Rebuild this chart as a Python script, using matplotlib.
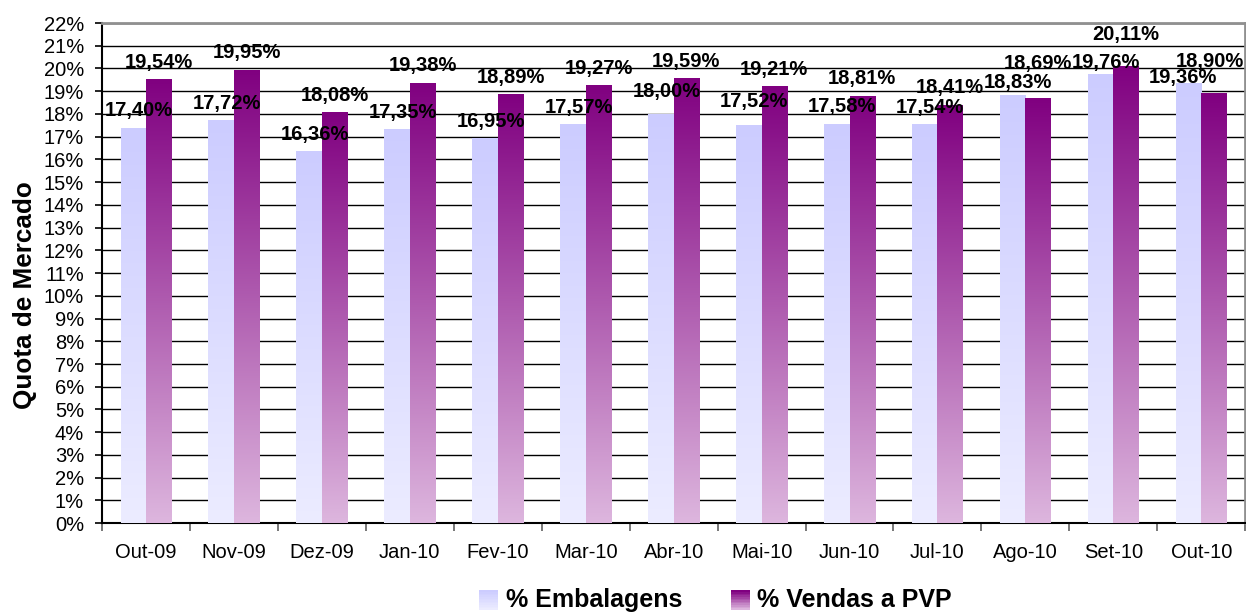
import numpy as np
import matplotlib
matplotlib.use('Agg')
import matplotlib.pyplot as plt
from matplotlib.colors import LinearSegmentedColormap
from matplotlib.legend_handler import HandlerBase
from matplotlib.patches import Rectangle
from matplotlib.ticker import FuncFormatter, MultipleLocator

plt.rcParams['font.family'] = ['Liberation Sans', 'DejaVu Sans']

# dados
meses = ['Out-09', 'Nov-09', 'Dez-09', 'Jan-10', 'Fev-10', 'Mar-10', 'Abr-10',
         'Mai-10', 'Jun-10', 'Jul-10', 'Ago-10', 'Set-10', 'Out-10']
embalagens = [17.40, 17.72, 16.36, 17.35, 16.95, 17.57, 18.00,
              17.52, 17.58, 17.54, 18.83, 19.76, 19.36]
vendas_pvp = [19.54, 19.95, 18.08, 19.38, 18.89, 19.27, 19.59,
              19.21, 18.81, 18.41, 18.69, 20.11, 18.90]
series = ['% Embalagens', '% Vendas a PVP']

# cores (topo -> base)
cor_emb = ('#ccccff', '#ececff')
cor_pvp = ('#800080', '#ddb6de')

fig = plt.figure(figsize=(12.46, 6.14), dpi=100)
ax = fig.add_axes([0.0819, 0.148, 0.9175, 0.8145])

x = np.arange(len(meses))
w = 0.29


def gradiente(ax, barras, cores):
    cmap = LinearSegmentedColormap.from_list('g', [cores[1], cores[0]])
    grad = np.linspace(0, 1, 256).reshape(-1, 1)
    for b in barras:
        b.set_facecolor('none')
        x0, y0 = b.get_x(), b.get_y()
        x1, y1 = x0 + b.get_width(), y0 + b.get_height()
        im = ax.imshow(grad, cmap=cmap, extent=[x0, x1, y0, y1], origin='lower',
                       aspect='auto', zorder=3, interpolation='bicubic')
        im.set_clip_path(b)


b1 = ax.bar(x - w / 2, embalagens, w, linewidth=0, zorder=3)
b2 = ax.bar(x + w / 2, vendas_pvp, w, linewidth=0, zorder=3)
gradiente(ax, b1, cor_emb)
gradiente(ax, b2, cor_pvp)

# rótulos (deslocamento em pontos; alguns movidos à mão no original)
desl_emb = [12] * len(meses)
desl_pvp = [12] * len(meses)
desl_emb[6] = 16
desl_emb[7] = 17
desl_emb[10] = 9
desl_emb[11] = 8
desl_emb[12] = 4
desl_pvp[10] = 25
desl_pvp[11] = 23
desl_pvp[12] = 23
dx_emb = [4] * len(meses)
dx_pvp = [0] * len(meses)
dx_emb[12] = -4
dx_pvp[12] = -3

fmt = lambda v: f'{v:.2f}%'.replace('.', ',')
for i in range(len(meses)):
    ax.annotate(fmt(embalagens[i]), (x[i] - w / 2, embalagens[i]),
                xytext=(dx_emb[i], desl_emb[i]), textcoords='offset points',
                ha='center', va='center', fontsize=14.5, fontweight='bold', zorder=5)
    ax.annotate(fmt(vendas_pvp[i]), (x[i] + w / 2, vendas_pvp[i]),
                xytext=(dx_pvp[i], desl_pvp[i]), textcoords='offset points',
                ha='center', va='center', fontsize=14.5, fontweight='bold', zorder=5)

ax.set_xlim(-0.5, len(meses) - 0.5)
ax.set_ylim(0, 22)
ax.yaxis.set_major_locator(MultipleLocator(1))
ax.yaxis.set_major_formatter(FuncFormatter(lambda v, p: f'{v:.0f}%'))
ax.grid(axis='y', color='black', linewidth=1, zorder=1)
ax.set_axisbelow(True)

ax.set_xticks(x)
ax.set_xticklabels(meses)
ax.set_xticks(np.arange(-0.5, len(meses)), minor=True)
ax.tick_params(axis='x', which='major', length=0, pad=14, labelsize=14.5)
ax.tick_params(axis='x', which='minor', length=6, color='#606060', width=1.2)
ax.tick_params(axis='y', length=5, width=1.2, pad=8, labelsize=14.5)

for s in ['top', 'right']:
    ax.spines[s].set_color('#909090')
    ax.spines[s].set_linewidth(2)
for s in ['left', 'bottom']:
    ax.spines[s].set_color('black')
    ax.spines[s].set_linewidth(1.5)

ax.set_ylabel('Quota de Mercado', fontsize=18.8, fontweight='bold')
ax.yaxis.set_label_coords(-0.057, 0.455)


class HandlerGrad(HandlerBase):
    def __init__(self, cores):
        super().__init__()
        self.cores = cores

    def create_artists(self, legend, orig, xd, yd, width, height, fontsize, trans):
        cmap = LinearSegmentedColormap.from_list('g', [self.cores[1], self.cores[0]])
        s = height * 1.1
        x0 = xd + width - s
        y0 = yd - (s - height) / 2 - 1
        n = 12
        arts = []
        for k in range(n):
            r = Rectangle((x0, y0 + s * k / n), s, s / n + 0.3,
                          facecolor=cmap(k / (n - 1)), edgecolor='none',
                          transform=trans)
            arts.append(r)
        return arts


h1 = Rectangle((0, 0), 1, 1)
h2 = Rectangle((0, 0), 1, 1)
fig.legend([h1, h2], series, loc='center', bbox_to_anchor=(0.573, 0.022),
           ncol=2, frameon=False, prop={'size': 18, 'weight': 'bold'},
           handler_map={h1: HandlerGrad(cor_emb), h2: HandlerGrad(cor_pvp)},
           handlelength=0.9, handletextpad=0.3, columnspacing=1.8)

fig.savefig('out.png', dpi=100)
